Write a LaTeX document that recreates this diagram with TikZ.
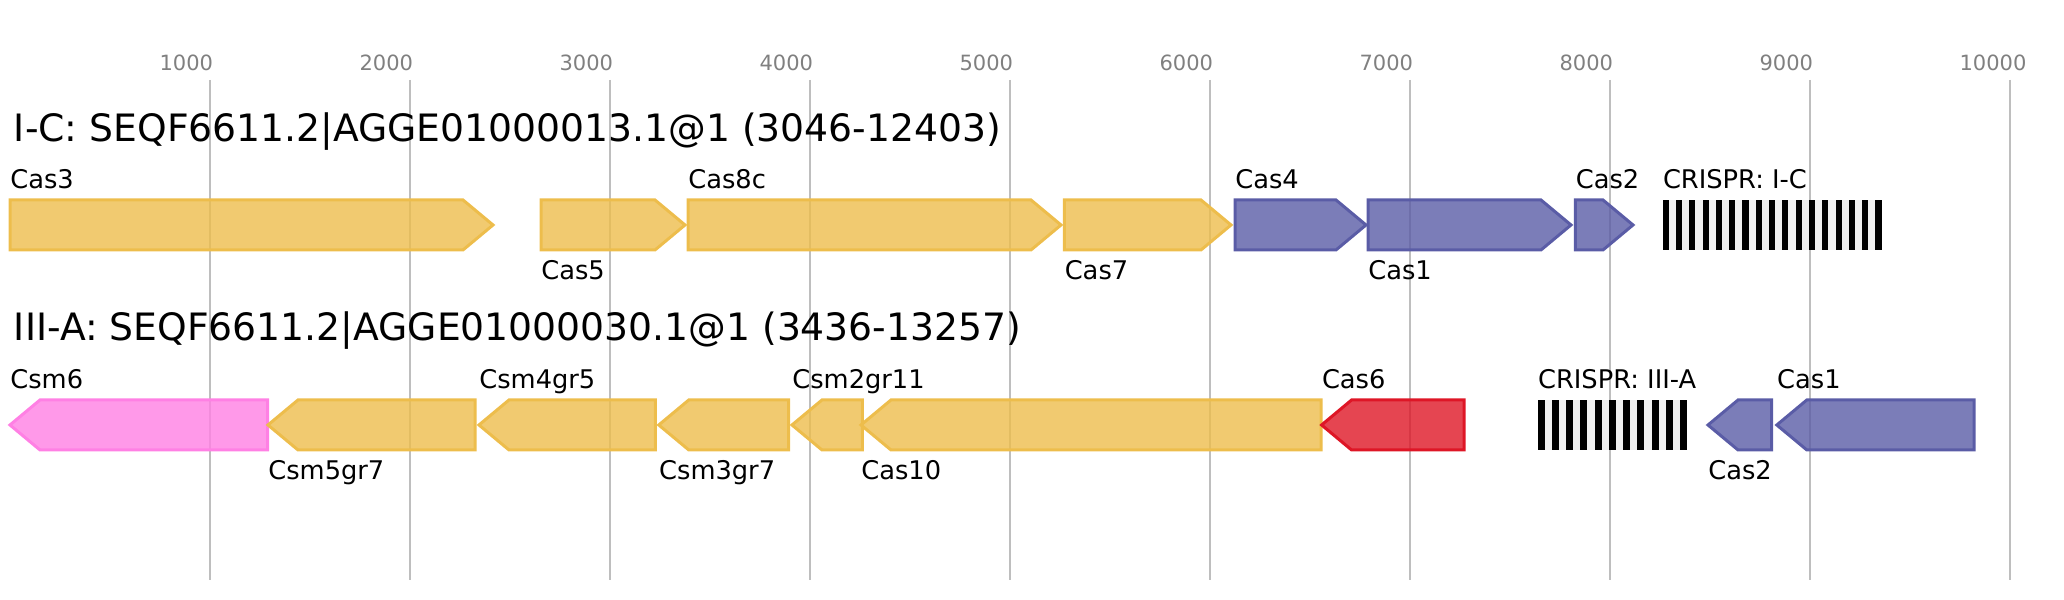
\documentclass[tikz,border=0pt]{standalone}
\usepackage{fontspec}
\setmainfont{DejaVu Sans}
\usepackage{tikz}
\definecolor{gridgray}{RGB}{190,190,190}
\definecolor{tickgray}{RGB}{128,128,128}
\definecolor{casyellow}{RGB}{237,189,76}
\definecolor{casblue}{RGB}{90,92,166}
\definecolor{caspink}{RGB}{255,128,228}
\definecolor{casred}{RGB}{222,22,38}
\definecolor{repeatgray}{RGB}{240,240,240}
\tikzset{
  gene/.style={line width=1.5pt, fill opacity=0.8, line join=miter},
  yellowgene/.style={gene, draw=casyellow, fill=casyellow},
  bluegene/.style={gene, draw=casblue, fill=casblue},
  pinkgene/.style={gene, draw=caspink, fill=caspink},
  redgene/.style={gene, draw=casred, fill=casred},
  gridline/.style={draw=gridgray, line width=1pt},
  genelabel/.style={anchor=base west, inner sep=0pt, font=\fontsize{12.85}{15}\selectfont},
  seqtitle/.style={anchor=base west, inner sep=0pt, font=\fontsize{18.85}{22}\selectfont},
  ticklabel/.style={anchor=base west, inner sep=0pt, text=tickgray, font=\fontsize{10.5}{12}\selectfont}
}

\begin{document}
\begin{tikzpicture}[x=0.1pt, y=-0.5pt]
  \useasboundingbox (-50,0) rectangle (10270,600);
  % scale and grid
  \foreach \v in {1000,2000,...,10000} {
    \draw[gridline] (\v,80) -- (\v,580);
    \node[ticklabel] (tick\v) at (\v-254,71) {\v};
  }
  % I-C
  \begin{scope}
    \node[seqtitle] (ictitle) at (17.5,141.5) {I-C: SEQF6611.2|AGGE01000013.1@1 (3046-12403)};
    \draw[yellowgene] (0,200) -- (2265,200) -- (2415,225) -- (2265,250) -- (0,250) -- cycle;
    \draw[yellowgene] (2655,200) -- (3225,200) -- (3375,225) -- (3225,250) -- (2655,250) -- cycle;
    \draw[yellowgene] (3390,200) -- (5105,200) -- (5255,225) -- (5105,250) -- (3390,250) -- cycle;
    \draw[yellowgene] (5272,200) -- (5955,200) -- (6105,225) -- (5955,250) -- (5272,250) -- cycle;
    \draw[bluegene] (6125,200) -- (6630,200) -- (6780,225) -- (6630,250) -- (6125,250) -- cycle;
    \draw[bluegene] (6790,200) -- (7655,200) -- (7805,225) -- (7655,250) -- (6790,250) -- cycle;
    \draw[bluegene] (7827,200) -- (7965,200) -- (8115,225) -- (7965,250) -- (7827,250) -- cycle;
    \fill[repeatgray] (8263,200) rectangle (9357.5,250);
    \foreach \k in {0,...,16}
      \fill (8263+\k*66.5,200) rectangle ++(30.5,50);
    \node[genelabel] (icCasthree) at (0,189) {Cas3};
    \node[genelabel] (icCasfive) at (2655,280) {Cas5};
    \node[genelabel] (icCaseightc) at (3390,189) {Cas8c};
    \node[genelabel] (icCasseven) at (5272,280) {Cas7};
    \node[genelabel] (icCasfour) at (6125,189) {Cas4};
    \node[genelabel] (icCasone) at (6790,280) {Cas1};
    \node[genelabel] (icCastwo) at (7827,189) {Cas2};
    \node[genelabel] (icCrispr) at (8263,189) {CRISPR: I-C};
  \end{scope}
  % III-A
  \begin{scope}[shift={(0,200)}]
    \node[seqtitle] (iiiatitle) at (17.5,140.5) {III-A: SEQF6611.2|AGGE01000030.1@1 (3436-13257)};
    \draw[pinkgene] (0,225) -- (150,200) -- (1288,200) -- (1288,250) -- (150,250) -- cycle;
    \draw[yellowgene] (1290,225) -- (1440,200) -- (2325,200) -- (2325,250) -- (1440,250) -- cycle;
    \draw[yellowgene] (2345,225) -- (2495,200) -- (3227,200) -- (3227,250) -- (2495,250) -- cycle;
    \draw[yellowgene] (3244,225) -- (3394,200) -- (3893,200) -- (3893,250) -- (3394,250) -- cycle;
    \draw[yellowgene] (3910,225) -- (4060,200) -- (4262,200) -- (4262,250) -- (4060,250) -- cycle;
    \draw[yellowgene] (4255,225) -- (4405,200) -- (6555,200) -- (6555,250) -- (4405,250) -- cycle;
    \draw[redgene] (6558,225) -- (6708,200) -- (7271,200) -- (7271,250) -- (6708,250) -- cycle;
    \fill[repeatgray] (7638.5,200) rectangle (8385,250);
    \foreach \k in {0,...,10}
      \fill (7638.5+\k*71.2,200) rectangle ++(34.5,50);
    \draw[bluegene] (8490,225) -- (8640,200) -- (8808,200) -- (8808,250) -- (8640,250) -- cycle;
    \draw[bluegene] (8834,225) -- (8984,200) -- (9821,200) -- (9821,250) -- (8984,250) -- cycle;
    \node[genelabel] (iiiaCsmsix) at (0,189) {Csm6};
    \node[genelabel] (iiiaCsmfive) at (1290,280) {Csm5gr7};
    \node[genelabel] (iiiaCsmfour) at (2345,189) {Csm4gr5};
    \node[genelabel] (iiiaCsmthree) at (3244,280) {Csm3gr7};
    \node[genelabel] (iiiaCsmtwo) at (3910,189) {Csm2gr11};
    \node[genelabel] (iiiaCasten) at (4255,280) {Cas10};
    \node[genelabel] (iiiaCassix) at (6558,189) {Cas6};
    \node[genelabel] (iiiaCrispr) at (7638.5,189) {CRISPR: III-A};
    \node[genelabel] (iiiaCastwo) at (8490,280) {Cas2};
    \node[genelabel] (iiiaCasone) at (8834,189) {Cas1};
  \end{scope}
\end{tikzpicture}
\end{document}
